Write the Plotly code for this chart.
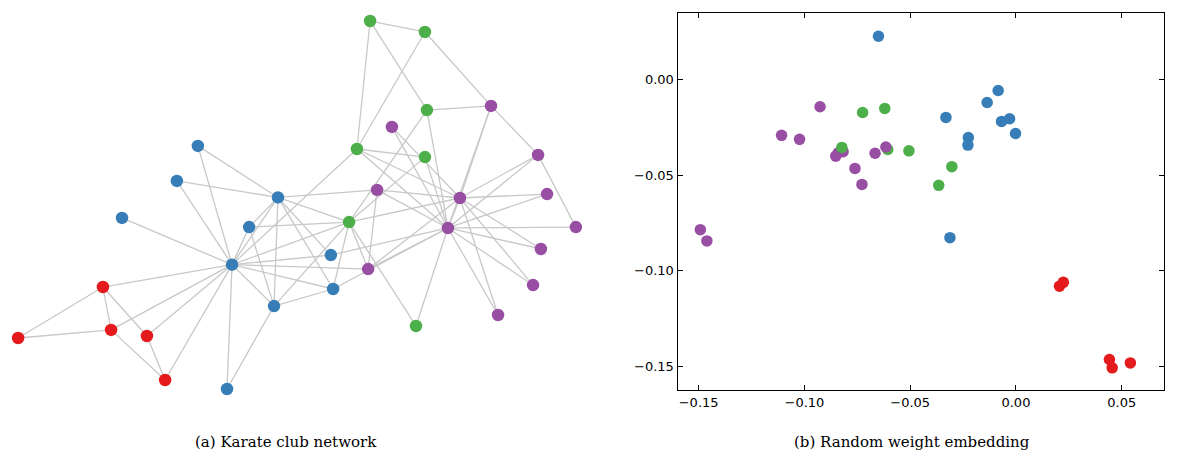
#!/usr/bin/env python3
"""
Karate club network and its random weight embedding, side by side.
"""

import plotly.graph_objects as go

# community colours (Set1)
palette = ['#377eb8', '#4daf4a', '#984ea3', '#e41a1c']

# layout position of each of the 34 members (left panel)
node_x = [-0.232, -0.068, 0.186, -0.082, -0.471, -0.693, -0.664, -0.171, 0.254, 0.425,
          -0.536, -0.625, -0.250, 0.129, 0.339, 0.893, -0.996, -0.354, 0.871, 0.121,
          0.843, -0.429, 0.718, 0.693, 0.261, 0.457, 0.996, 0.464, 0.457, 0.861,
          0.286, 0.214, 0.582, 0.539]
node_y = [-0.213, 0.027, -0.061, -0.361, -0.625, -0.293, -0.446, -0.079, -0.229, -0.432,
          -0.468, -0.046, -0.657, -0.300, 0.279, 0.039, -0.475, 0.211, -0.157, -0.179,
          -0.286, 0.086, -0.393, 0.354, 0.657, 0.618, -0.079, 0.339, 0.171, 0.179,
          0.054, 0.200, 0.025, -0.082]

# community of each member: 0 blue, 1 green, 2 purple, 3 red
community = [0, 0, 1, 0, 3, 3, 3, 0, 2, 1,
             3, 0, 0, 0, 2, 2, 3, 0, 2, 0,
             2, 0, 2, 2, 1, 1, 2, 1, 1, 2,
             2, 1, 2, 2]

# 2-d output of the untrained model (right panel)
emb_x = [-0.0650, -0.0084, -0.0725, -0.0136, 0.0206, 0.0224, 0.0442, -0.0331, -0.0926, -0.0620,
         0.0455, -0.0068, -0.0030, -0.0002, -0.1108, -0.1023, 0.0541, -0.0225, -0.0817, -0.0227,
         -0.0840, -0.0312, -0.0852, -0.0666, -0.0823, -0.0606, -0.0615, -0.0506, -0.0303, -0.0761,
         -0.0728, -0.0365, -0.1492, -0.1461]
emb_y = [0.0228, -0.0056, -0.0171, -0.0119, -0.1081, -0.1061, -0.1465, -0.0197, -0.0141, -0.0150,
         -0.1509, -0.0218, -0.0204, -0.0281, -0.0291, -0.0312, -0.1483, -0.0302, -0.0377, -0.0342,
         -0.0382, -0.0827, -0.0400, -0.0385, -0.0354, -0.0365, -0.0352, -0.0372, -0.0455, -0.0464,
         -0.0548, -0.0553, -0.0785, -0.0844]

# Zachary karate club friendships
edges = [(0, 1), (0, 2), (0, 3), (0, 4), (0, 5), (0, 6), (0, 7), (0, 8), (0, 10), (0, 11),
         (0, 12), (0, 13), (0, 17), (0, 19), (0, 21), (0, 31), (1, 2), (1, 3), (1, 7), (1, 13),
         (1, 17), (1, 19), (1, 21), (1, 30), (2, 3), (2, 7), (2, 8), (2, 9), (2, 13), (2, 27),
         (2, 28), (2, 32), (3, 7), (3, 12), (3, 13), (4, 6), (4, 10), (5, 6), (5, 10), (5, 16),
         (6, 16), (8, 30), (8, 32), (8, 33), (9, 33), (13, 33), (14, 32), (14, 33), (15, 32),
         (15, 33), (18, 32), (18, 33), (19, 33), (20, 32), (20, 33), (22, 32), (22, 33),
         (23, 25), (23, 27), (23, 29), (23, 32), (23, 33), (24, 25), (24, 27), (24, 31),
         (25, 31), (26, 29), (26, 33), (27, 33), (28, 31), (28, 33), (29, 32), (29, 33),
         (30, 32), (30, 33), (31, 32), (31, 33), (32, 33)]

x_ticks = [-0.15, -0.10, -0.05, 0.00, 0.05]
y_ticks = [0.00, -0.05, -0.10, -0.15]

colors = [palette[c] for c in community]

edge_x, edge_y = [], []
for a, b in edges:
    edge_x += [node_x[a], node_x[b], None]
    edge_y += [node_y[a], node_y[b], None]

fig = go.Figure()

fig.add_trace(go.Scatter(
    x=edge_x, y=edge_y, mode='lines',
    line=dict(color='#c8c8c8', width=1.3),
    hoverinfo='skip', xaxis='x', yaxis='y'))

fig.add_trace(go.Scatter(
    x=node_x, y=node_y, mode='markers',
    marker=dict(size=12.5, color=colors, line=dict(width=0)),
    xaxis='x', yaxis='y'))

fig.add_trace(go.Scatter(
    x=emb_x, y=emb_y, mode='markers',
    marker=dict(size=11.5, color=colors, line=dict(width=0)),
    xaxis='x2', yaxis='y2'))

W, H = 1177, 462
OFF = 8  # page body margin pushes the plot right/down by this much


def px_x(p):
    return (p - OFF) / W


def px_y(p):
    return (H - (p - OFF)) / H


# network panel: same scale on both axes (280 px per unit), no frame
fig.update_layout(
    xaxis=dict(domain=[px_x(8), px_x(596)], range=[(8 - 297) / 280, (596 - 297) / 280],
               visible=False, fixedrange=True),
    yaxis=dict(domain=[px_y(420), px_y(8)], range=[(205 - 420) / 280, (205 - 8) / 280],
               visible=False, fixedrange=True),
)

frame = dict(showline=True, linecolor='black', linewidth=1, mirror='ticks',
             ticks='inside', ticklen=5, tickcolor='black', showgrid=False,
             zeroline=False, tickformat='.2f',
             tickfont=dict(family='DejaVu Sans', size=13, color='black'))

fig.update_layout(
    xaxis2=dict(domain=[px_x(677.5), px_x(1164)], range=[-0.16, 0.07],
                tickvals=x_ticks, anchor='y2', **frame),
    yaxis2=dict(domain=[px_y(390), px_y(13)], range=[-0.1625, 0.035],
                tickvals=y_ticks, anchor='x2', **frame),
)

caption_font = dict(family='DejaVu Serif', size=15, color='black')
for text, cx in [('(a) Karate club network', 286), ('(b) Random weight embedding', 912)]:
    fig.add_annotation(text=text, x=px_x(cx), y=px_y(442),
                       xref='paper', yref='paper', xanchor='center', yanchor='middle',
                       showarrow=False, font=caption_font)

fig.update_layout(
    width=W, height=H,
    margin=dict(l=0, r=0, t=0, b=0),
    paper_bgcolor='white', plot_bgcolor='white',
    showlegend=False,
)

fig.write_html("out.html")
